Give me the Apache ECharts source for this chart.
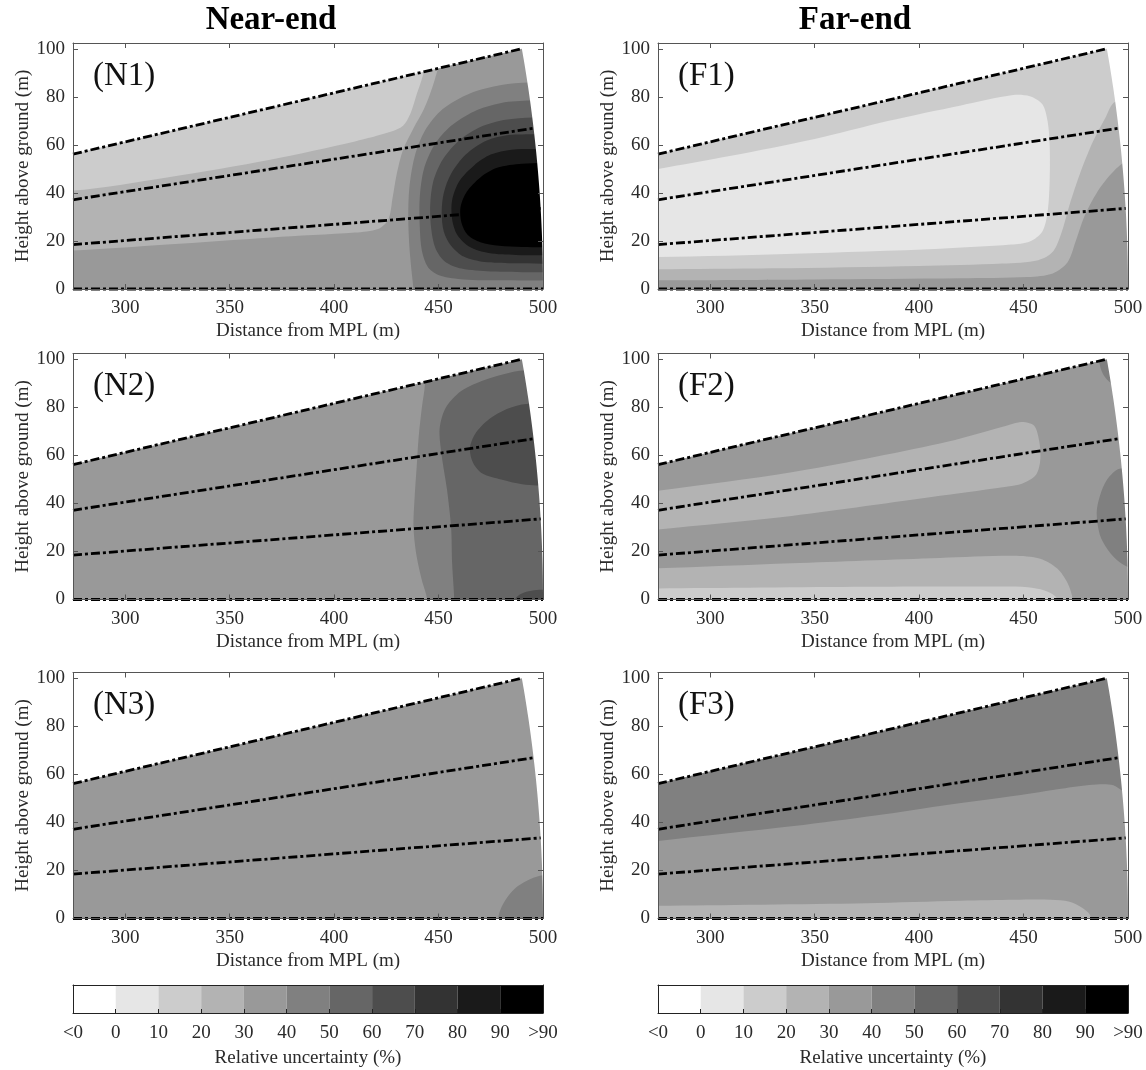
<!DOCTYPE html>
<html>
<head>
<meta charset="utf-8">
<script src="https://cdn.jsdelivr.net/npm/echarts@6/dist/echarts.min.js"></script>
<style>
  html, body { margin: 0; padding: 0; background: #ffffff; }
  #chart { width: 1146px; height: 1070px; }
</style>
</head>
<body>
<div id="chart"></div>
<script>
// ---- Shared scales -------------------------------------------------------
const X_RANGE = [275, 500];            // distance from MPL (m)
const Y_RANGE = [0, 102.5];            // height above ground (m)
const X_TICKS = [300, 350, 400, 450, 500];
const Y_TICKS = [0, 20, 40, 60, 80, 100];
const SCAN_RANGE = 500;                // maximum range of the scan (m)
const ELEVATIONS = [0, 3.85, 7.7, 11.55]; // scan elevation angles (deg)

// Relative-uncertainty classes: <0, 0-10, ..., 80-90, >90
const LEVEL_COLORS = ['#ffffff', '#e6e6e6', '#cccccc', '#b3b3b3', '#999999', '#808080',
                      '#666666', '#4d4d4d', '#333333', '#1a1a1a', '#000000'];
const CB_LABELS = ['<0', '0', '10', '20', '30', '40', '50', '60', '70', '80', '90', '>90'];

// ---- Filled contour regions (distance m, height m), painted in order ------
// N1
const N1_BASE = 4;
const N1_LEVELS = [3, 2, 5, 6, 7, 8, 9, 10];
const N1_CONTOURS = [
  [[230,15],[275,16],[320,18.5],[370,21.5],[410,23.5],[421,25],[426,29],[428,38],[430,48],[433,58],[438,67],[443,75],[447,84],[450,93],[452,103],[454,130],[230,130]],
  [[230,40],[275,41],[320,46.5],[370,54],[410,61.5],[427,65.5],[433,68],[436.5,73],[439.5,81],[442.5,89],[445,98],[447,130],[230,130]],
  [[560,86],[515,86],[493,86],[480,85],[465,81.5],[452,75],[443.5,66],[438.5,55],[436,42],[435.5,30],[436,18],[437,8],[438,0],[439,-10],[440,-30],[560,-30]],
  [[560,78.5],[515,78.5],[494,78.5],[480,77.5],[467,74],[456,68],[448,60],[443,50],[441,38],[441,26],[442,16],[445,9],[451,5.5],[462,4],[480,3.6],[515,3.5],[560,3.5]],
  [[560,71.5],[515,71.5],[495,71.5],[482,70.5],[470,67.5],[460,62],[452,54],[447.5,45],[446,35],[446.5,25],[448.5,17],[453,11.5],[461,8.5],[475,7.3],[495,7],[515,7],[560,7]],
  [[560,64.5],[515,64.5],[495,64.5],[482,64],[472,61.5],[463,56],[456,48],[452.5,40],[451.5,32],[452.5,24],[456,18],[462,13.5],[472,11.2],[485,10.7],[515,10.5],[560,10.5]],
  [[560,58.5],[515,58.5],[495,58.3],[485,58],[475,56],[467,51.5],[460,45],[456.5,37],[456.5,29],[459,22.5],[465,17.5],[474,15],[487,14.2],[515,14],[560,14]],
  [[560,52.5],[515,52.5],[490,52.2],[478,50.5],[470,46.5],[463.5,40.5],[460.5,34],[461,27.5],[464,22.5],[470,19.5],[479,18],[490,17.5],[515,17.3],[560,17.3]]
];

// F1
const F1_BASE = 2;
const F1_LEVELS = [3, 4, 1];
const F1_CONTOURS = [
  [[230,-30],[230,8.2],[275,8.2],[330,8.6],[400,9.6],[440,10.6],[457,12],[464,15.5],[468,23],[472,35],[477,48],[483,61],[489,71],[494,78],[515,80],[560,80],[560,-30]],
  [[230,-30],[230,3.5],[275,3.6],[350,4],[420,4.5],[452,5],[464,6.5],[471,11],[475,20],[479,30],[485,40],[492,48],[499,53],[515,55],[560,55],[560,-30]],
  [[230,13.3],[275,13.3],[340,14.7],[410,16.8],[444,18.5],[453,19.8],[459,24],[461.5,32],[462.5,45],[462.5,60],[461.5,70],[459,77],[453,80.3],[445,80.8],[420,76.5],[385,70],[350,62.5],[310,55.5],[275,50],[230,43]]
];

// N2
const N2_BASE = 4;
const N2_LEVELS = [5, 6, 7, 7];
const N2_CONTOURS = [
  [[440,130],[443,102],[443.5,90],[442,80],[440.5,68],[439.5,55],[438.5,42],[438,30],[439.5,18],[442,8],[444.5,0],[446,-30],[560,-30],[560,130]],
  [[560,95],[515,95],[492,95.5],[484,94.5],[472,91.5],[461,87],[453.5,80],[450.5,71],[451.5,60],[454,46],[456,30],[456.5,15],[457.5,0],[458,-30],[560,-30]],
  [[560,81],[515,81],[492,81.5],[483,79.5],[474,75],[467.5,69],[465,63],[466.5,57],[471,52.5],[480,50],[490,48],[497,47.5],[515,47.3],[560,47.3]],
  [[486,-30],[486,-1],[488,1.5],[492,3.2],[497,4],[515,4.2],[560,4.2],[560,-30]]
];

// F2
const F2_BASE = 4;
const F2_LEVELS = [3, 3, 2, 5, 5];
const F2_CONTOURS = [
  [[230,40],[275,45.3],[339,53],[410,65],[440,72],[449,74],[455,72.5],[457.5,66],[458,58],[456,52],[450,48.5],[445,47.4],[410,43.2],[339,34.8],[275,29.2],[230,25.3]],
  [[230,-30],[230,12],[275,13],[339,15.1],[410,17.3],[445,18.2],[458,17],[466,13],[471,7],[473.5,0],[475,-30]],
  [[230,-30],[230,4.3],[275,4.6],[375,5.3],[440,5.4],[452,5.1],[460,3.8],[465,1.5],[467,-2],[468,-30]],
  [[560,55],[515,55],[496,54.5],[490,50],[486.5,43],[485,36],[486.5,27],[490.5,20.5],[496,15.5],[502,13],[515,12.5],[560,12.5]],
  [[483,130],[486,100],[488,94],[492,90],[497,88],[515,87],[560,87],[560,130]]
];

// N3
const N3_BASE = 4;
const N3_LEVELS = [5];
const N3_CONTOURS = [
  [[476,-30],[478.5,0],[480,4.5],[483,9],[488,13.5],[494,16.5],[500,18],[515,18.5],[560,18.5],[560,-30]]
];

// F3
const F3_BASE = 5;
const F3_LEVELS = [4, 3];
const F3_CONTOURS = [
  [[230,-30],[230,28],[275,32.3],[340,38.5],[380,43],[410,46.9],[445,51],[470,54.3],[485,55.8],[493,55.5],[498,53],[515,50],[560,50],[560,-30]],
  [[230,-30],[230,5],[275,5.3],[375,6.4],[420,7.4],[446,7.8],[463,7.8],[472,7],[478,4.5],[482,1],[484,-30]]
];

// ---- Layout ----------------------------------------------------------------
const FONT = '"Liberation Serif", "Times New Roman", serif';
const TEXT_COLOR = '#2a2a2a';
const FRAME_COLOR = '#555555';
const COL_LEFT = [73, 658];
const ROW_TOP = [43, 353.5, 672.5];
const PLOT_W = 470, PLOT_H = 246;

const panels = [
  { label: '(N1)', base: N1_BASE, levels: N1_LEVELS, contours: N1_CONTOURS, col: 0, row: 0 },
  { label: '(F1)', base: F1_BASE, levels: F1_LEVELS, contours: F1_CONTOURS, col: 1, row: 0 },
  { label: '(N2)', base: N2_BASE, levels: N2_LEVELS, contours: N2_CONTOURS, col: 0, row: 1 },
  { label: '(F2)', base: F2_BASE, levels: F2_LEVELS, contours: F2_CONTOURS, col: 1, row: 1 },
  { label: '(N3)', base: N3_BASE, levels: N3_LEVELS, contours: N3_CONTOURS, col: 0, row: 2 },
  { label: '(F3)', base: F3_BASE, levels: F3_LEVELS, contours: F3_CONTOURS, col: 1, row: 2 }
];

const rad = d => d * Math.PI / 180;

// Area of each panel outside the scanned sector (above the highest beam, beyond max range)
function outsideSector() {
  const top = rad(ELEVATIONS[ELEVATIONS.length - 1]);
  const x0 = X_RANGE[0] - 20;
  const pts = [[x0, x0 * Math.tan(top)]];
  const steps = 60;
  for (let i = 0; i <= steps; i++) {
    const a = top * (1 - i / steps);
    pts.push([SCAN_RANGE * Math.cos(a), SCAN_RANGE * Math.sin(a)]);
  }
  pts.push([X_RANGE[1] + 40, 0], [X_RANGE[1] + 40, Y_RANGE[1] + 40], [x0, Y_RANGE[1] + 40]);
  return pts;
}

function beam(elev) {
  const a = rad(elev);
  const x0 = X_RANGE[0];
  return [[x0, x0 * Math.tan(a)], [SCAN_RANGE * Math.cos(a), SCAN_RANGE * Math.sin(a)]];
}

const axisText = { fontFamily: FONT, fontSize: 19, color: TEXT_COLOR };
const frameLine = color => ({ show: true, onZero: false, lineStyle: { color, width: 1 } });

const grids = [], xAxes = [], yAxes = [], series = [], graphics = [];

panels.forEach((p, k) => {
  const left = COL_LEFT[p.col], top = ROW_TOP[p.row];
  grids.push({ left, top, width: PLOT_W, height: PLOT_H, containLabel: false });

  xAxes.push({
    gridIndex: k, type: 'value', min: X_RANGE[0], max: X_RANGE[1], position: 'bottom', z: 10,
    axisLine: frameLine(FRAME_COLOR),
    axisTick: { show: true, inside: true, length: 5, customValues: X_TICKS, lineStyle: { color: FRAME_COLOR } },
    axisLabel: { show: true, customValues: X_TICKS, margin: 10, ...axisText },
    splitLine: { show: false },
    name: 'Distance from MPL (m)', nameLocation: 'middle', nameGap: 33,
    nameTextStyle: { ...axisText }
  });
  xAxes.push({
    gridIndex: k, type: 'value', min: X_RANGE[0], max: X_RANGE[1], position: 'top', z: 10,
    axisLine: frameLine(FRAME_COLOR),
    axisTick: { show: true, inside: true, length: 5, customValues: X_TICKS, lineStyle: { color: FRAME_COLOR } },
    axisLabel: { show: false }, splitLine: { show: false }
  });
  yAxes.push({
    gridIndex: k, type: 'value', min: Y_RANGE[0], max: Y_RANGE[1], position: 'left', z: 10,
    axisLine: frameLine(FRAME_COLOR),
    axisTick: { show: true, inside: true, length: 5, customValues: Y_TICKS, lineStyle: { color: FRAME_COLOR } },
    axisLabel: { show: true, customValues: Y_TICKS, margin: 8, ...axisText },
    splitLine: { show: false },
    name: 'Height above ground (m)', nameLocation: 'middle', nameGap: 40, nameRotate: 90,
    nameTextStyle: { ...axisText }
  });
  yAxes.push({
    gridIndex: k, type: 'value', min: Y_RANGE[0], max: Y_RANGE[1], position: 'right', z: 10,
    axisLine: frameLine(FRAME_COLOR),
    axisTick: { show: true, inside: true, length: 5, customValues: Y_TICKS, lineStyle: { color: FRAME_COLOR } },
    axisLabel: { show: false }, splitLine: { show: false }
  });

  const xi = 2 * k, yi = 2 * k;

  // background class + nested contour regions
  const fullArea = [[X_RANGE[0], Y_RANGE[0]], [X_RANGE[1], Y_RANGE[0]], [X_RANGE[1], Y_RANGE[1]], [X_RANGE[0], Y_RANGE[1]]];
  const regions = [{ level: p.base, pts: fullArea, smooth: 0 }]
    .concat(p.contours.map((pts, i) => ({ level: p.levels[i], pts, smooth: 0.3 })));

  series.push({
    type: 'custom', xAxisIndex: xi, yAxisIndex: yi, clip: true, z: 2, silent: true,
    data: regions.map((r, i) => [300, 50, i]),
    renderItem: (params, api) => {
      const r = regions[params.dataIndex];
      return {
        type: 'polygon',
        shape: { points: r.pts.map(pt => api.coord(pt)), smooth: r.smooth },
        style: { fill: LEVEL_COLORS[r.level], stroke: null }
      };
    }
  });

  // blank outside the scanned sector
  const outside = outsideSector();
  series.push({
    type: 'custom', xAxisIndex: xi, yAxisIndex: yi, clip: true, z: 3, silent: true,
    data: [[300, 50]],
    renderItem: (params, api) => ({
      type: 'polygon',
      shape: { points: outside.map(pt => api.coord(pt)) },
      style: { fill: '#ffffff', stroke: null }
    })
  });

  // beam lines at each elevation
  ELEVATIONS.forEach(e => {
    series.push({
      type: 'line', xAxisIndex: xi, yAxisIndex: yi, data: beam(e), symbol: 'none',
      clip: false, z: 4, silent: true,
      lineStyle: { color: '#000000', width: 2.8, type: [9, 3, 3, 3] }
    });
  });

  graphics.push({
    type: 'text', x: left + 20, y: top + 33, z: 20,
    style: { text: p.label, fontFamily: FONT, fontSize: 33, fill: '#111111', align: 'left', verticalAlign: 'middle' }
  });
});

// ---- Colour bars -------------------------------------------------------------
const CB_TOP = 985, CB_H = 28;
[0, 1].forEach(c => {
  const g = grids.length;
  grids.push({ left: COL_LEFT[c], top: CB_TOP, width: PLOT_W, height: CB_H, containLabel: false });
  const xi = xAxes.length, yi = yAxes.length;
  xAxes.push({
    gridIndex: g, type: 'value', min: 0, max: LEVEL_COLORS.length, interval: 1, position: 'bottom', z: 10,
    axisLine: frameLine('#222222'),
    axisTick: { show: true, inside: true, length: 4, lineStyle: { color: '#222222' } },
    axisLabel: { show: true, margin: 11, formatter: v => CB_LABELS[Math.round(v)], ...axisText },
    splitLine: { show: false },
    name: 'Relative uncertainty (%)', nameLocation: 'middle', nameGap: 36,
    nameTextStyle: { ...axisText }
  });
  xAxes.push({
    gridIndex: g, type: 'value', min: 0, max: LEVEL_COLORS.length, position: 'top', z: 10,
    axisLine: frameLine('#222222'),
    axisTick: { show: false }, axisLabel: { show: false }, splitLine: { show: false }
  });
  yAxes.push({
    gridIndex: g, type: 'value', min: 0, max: 1, position: 'left', z: 10,
    axisLine: frameLine('#222222'),
    axisTick: { show: false }, axisLabel: { show: false }, splitLine: { show: false }
  });
  yAxes.push({
    gridIndex: g, type: 'value', min: 0, max: 1, position: 'right', z: 10,
    axisLine: frameLine('#222222'),
    axisTick: { show: false }, axisLabel: { show: false }, splitLine: { show: false }
  });
  series.push({
    type: 'custom', xAxisIndex: xi, yAxisIndex: yi, z: 2, silent: true,
    data: LEVEL_COLORS.map((col, i) => [i + 0.5, 0.5, i]),
    renderItem: (params, api) => {
      const i = params.dataIndex;
      const a = api.coord([i, 1]), b = api.coord([i + 1, 0]);
      return {
        type: 'rect',
        shape: { x: a[0], y: a[1], width: b[0] - a[0], height: b[1] - a[1] },
        style: { fill: LEVEL_COLORS[i], stroke: null }
      };
    }
  });
});

// ---- Column headings -------------------------------------------------------
graphics.push(
  { type: 'text', x: 271, y: 20, z: 20,
    style: { text: 'Near-end', fontFamily: FONT, fontSize: 33, fontWeight: 'bold', fill: '#000000', align: 'center', verticalAlign: 'middle' } },
  { type: 'text', x: 855, y: 20, z: 20,
    style: { text: 'Far-end', fontFamily: FONT, fontSize: 33, fontWeight: 'bold', fill: '#000000', align: 'center', verticalAlign: 'middle' } }
);

const chart = echarts.init(document.getElementById('chart'), null, { renderer: 'canvas' });
chart.setOption({
  backgroundColor: '#ffffff',
  animation: false,
  grid: grids,
  xAxis: xAxes,
  yAxis: yAxes,
  series: series,
  graphic: graphics
});
</script>
</body>
</html>
